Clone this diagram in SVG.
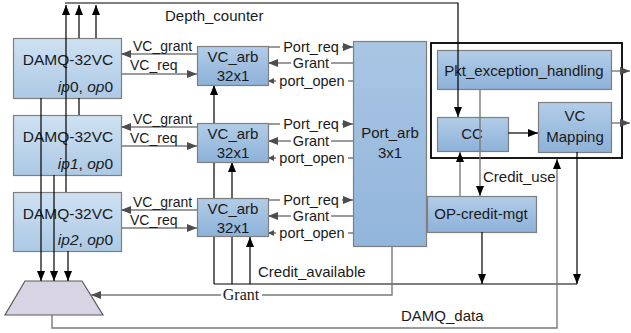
<svg xmlns="http://www.w3.org/2000/svg" width="631" height="333" viewBox="0 0 631 333">
<style>
.t{font-family:"Liberation Sans",Arial,sans-serif;font-size:15px;fill:#1a1a1a}
.s{font-size:14px}
.p{font-size:14.5px}
.c{text-anchor:middle}
.i{font-style:italic}
.serif{font-family:"Liberation Serif","Times New Roman",serif;font-size:16px;fill:#1a1a1a}
.box{stroke:#7f7f7f;stroke-width:1.2}
.k{fill:none;stroke:#000;stroke-width:1.2}
.g{fill:none;stroke:#7a7a7a;stroke-width:1.4}
.bg{fill:#fff}
</style>
<defs>
<linearGradient id="gd" x1="0" y1="0" x2="0" y2="1"><stop offset="0" stop-color="#cfe1f2"/><stop offset="1" stop-color="#acc9e5"/></linearGradient>
<linearGradient id="ga" x1="0" y1="0" x2="0" y2="1"><stop offset="0" stop-color="#b2cde8"/><stop offset="1" stop-color="#8db1d8"/></linearGradient>
<linearGradient id="gp" x1="0" y1="0" x2="0" y2="1"><stop offset="0" stop-color="#a9c6e4"/><stop offset="1" stop-color="#92b5db"/></linearGradient>
<marker id="ab" viewBox="0 0 10 8" refX="10" refY="4" markerWidth="10" markerHeight="8" markerUnits="userSpaceOnUse" orient="auto"><path d="M0,0L10,4L0,8z" fill="#000"/></marker>
<marker id="ag" viewBox="0 0 10 8" refX="10" refY="4" markerWidth="10" markerHeight="8" markerUnits="userSpaceOnUse" orient="auto"><path d="M0,0L10,4L0,8z" fill="#4d4d4d"/></marker>
<marker id="as" viewBox="0 0 6 6" refX="6" refY="3" markerWidth="6" markerHeight="6" markerUnits="userSpaceOnUse" orient="auto"><path d="M0,0L6,3L0,6z" fill="#4d4d4d"/></marker>
</defs>
<rect width="631" height="333" fill="#fff"/>

<g id="damq0"><rect class="box" x="13.5" y="38.5" width="108" height="60" fill="url(#gd)"/><text class="t c" x="68" y="65" style="font-size:15.5px">DAMQ-32VC</text><text class="t" x="113" y="92" text-anchor="end" style="font-size:15.5px"><tspan class="i">ip</tspan>0, <tspan class="i">op</tspan>0</text></g>
<g id="damq1"><rect class="box" x="13.5" y="115.5" width="108" height="60" fill="url(#gd)"/><text class="t c" x="68" y="142" style="font-size:15.5px">DAMQ-32VC</text><text class="t" x="113" y="169" text-anchor="end" style="font-size:15.5px"><tspan class="i">ip1</tspan>, <tspan class="i">op</tspan>0</text></g>
<g id="damq2"><rect class="box" x="13.5" y="192.5" width="108" height="59" fill="url(#gd)"/><text class="t c" x="68" y="219" style="font-size:15.5px">DAMQ-32VC</text><text class="t" x="113" y="245" text-anchor="end" style="font-size:15.5px"><tspan class="i">ip2</tspan>, <tspan class="i">op</tspan>0</text></g>

<g id="mux"><polygon points="25,281 82,281 103,315 5,315" fill="#d9d4e4" stroke="#595959" stroke-width="1.2"/></g>

<g id="port_arb"><rect class="box" x="353.5" y="41.5" width="73" height="205" fill="url(#gp)"/><text class="t c" x="390" y="138">Port_arb</text><text class="t c" x="390" y="158">3x1</text></g>

<g id="outer"><rect x="431" y="43" width="191" height="115" fill="none" stroke="#000" stroke-width="1.8"/></g>
<g id="pkt"><rect class="box" x="437.5" y="50.5" width="174" height="39" fill="url(#ga)"/><text class="t c" x="524" y="76">Pkt_exception_handling</text></g>
<g id="cc"><rect class="box" x="437.5" y="117.5" width="71" height="34" fill="url(#ga)"/><text class="t c" x="472" y="139">CC</text></g>
<g id="vcmap"><rect class="box" x="538.5" y="102.5" width="73" height="50" fill="url(#ga)"/><text class="t c" x="575" y="121">VC</text><text class="t c" x="575" y="142">Mapping</text></g>
<g id="opcredit"><rect class="box" x="427.5" y="196.5" width="109" height="36" fill="url(#ga)"/><text class="t c" x="481" y="219">OP-credit-mgt</text></g>

<g id="connectors">
<path class="k" d="M65,3H458V117" marker-end="url(#ab)"/>
<path class="k" d="M66,192V5" marker-end="url(#ab)"/>
<path class="k" d="M79,115V98M79,38V5" marker-end="url(#ab)"/>
<path class="k" d="M96,38V5" marker-end="url(#ab)"/>
<path class="k" d="M41,98V281" marker-end="url(#ab)"/>
<path class="k" d="M54,175V281" marker-end="url(#ab)"/>
<path class="k" d="M68,251V281" marker-end="url(#ab)"/>
<path class="g" d="M197,54H121" marker-end="url(#ag)"/>
<path class="g" d="M121,74H197" marker-end="url(#ag)"/>
<path class="g" d="M197,127H121" marker-end="url(#ag)"/>
<path class="g" d="M121,146H197" marker-end="url(#ag)"/>
<path class="g" d="M197,210H121" marker-end="url(#ag)"/>
<path class="g" d="M121,228H197" marker-end="url(#ag)"/>
<path class="g" d="M268,47H353" marker-end="url(#ag)"/>
<path class="g" d="M353,63H268" marker-end="url(#ag)"/>
<path class="g" d="M353,81H268" marker-end="url(#as)"/>
<path class="g" d="M268,124H353" marker-end="url(#ag)"/>
<path class="g" d="M353,141H268" marker-end="url(#ag)"/>
<path class="g" d="M353,158H268" marker-end="url(#as)"/>
<path class="g" d="M268,200H353" marker-end="url(#ag)"/>
<path class="g" d="M353,216H268" marker-end="url(#ag)"/>
<path class="g" d="M353,233H268" marker-end="url(#as)"/>
<path class="k" d="M214,284H577"/>
<path class="k" d="M214,284V85" marker-end="url(#ab)"/>
<path class="k" d="M232,284V162" marker-end="url(#ab)"/>
<path class="k" d="M250,284V237" marker-end="url(#ab)"/>
<path class="k" d="M482,232V284" marker-end="url(#ab)"/>
<path class="k" d="M577,152V284" marker-end="url(#ab)"/>
<path class="g" d="M392,246V295H91" marker-end="url(#ag)"/>
<path class="g" d="M52,315V328H557V159" marker-end="url(#ab)"/>
<path class="g" d="M480,89V196" marker-end="url(#ab)"/>
<path class="g" d="M460,196V152" marker-end="url(#ab)"/>
<path class="k" d="M508,133H538" marker-end="url(#ab)"/>
<path class="g" d="M611,71H630" marker-end="url(#ag)"/>
<path class="g" d="M611,123H630" marker-end="url(#ag)"/>
<text class="t s" x="133" y="51">VC_grant</text>
<text class="t s" x="130" y="70">VC_req</text>
<text class="t s" x="133" y="124">VC_grant</text>
<text class="t s" x="130" y="143">VC_req</text>
<text class="t s" x="133" y="207">VC_grant</text>
<text class="t s" x="130" y="225">VC_req</text>
<rect class="bg" x="280" y="40" width="62" height="14"/><text class="t p c" x="311" y="52">Port_req</text>
<rect class="bg" x="291" y="56" width="40" height="14"/><text class="t p c" x="311" y="68">Grant</text>
<rect class="bg" x="276" y="74" width="72" height="14"/><text class="t p c" x="312" y="86">port_open</text>
<rect class="bg" x="280" y="117" width="62" height="14"/><text class="t p c" x="311" y="129">Port_req</text>
<rect class="bg" x="291" y="134" width="40" height="14"/><text class="t p c" x="311" y="146">Grant</text>
<rect class="bg" x="276" y="151" width="72" height="14"/><text class="t p c" x="312" y="163">port_open</text>
<rect class="bg" x="280" y="193" width="62" height="14"/><text class="t p c" x="311" y="205">Port_req</text>
<rect class="bg" x="291" y="209" width="40" height="14"/><text class="t p c" x="311" y="221">Grant</text>
<rect class="bg" x="276" y="226" width="72" height="14"/><text class="t p c" x="312" y="238">port_open</text>
<rect class="bg" x="221" y="288" width="41" height="14"/><text class="serif c" x="241" y="300">Grant</text>
<text class="t" x="165" y="21">Depth_counter</text>
<text class="t" x="258" y="277">Credit_available</text>
<text class="t" x="483" y="182">Credit_use</text>
<text class="t" x="401" y="321">DAMQ_data</text>
</g>

<g id="vcarb0"><rect class="box" x="197.5" y="46.5" width="71" height="39" fill="url(#ga)"/><text class="t c" x="233" y="62">VC_arb</text><text class="t c" x="233" y="81">32x1</text></g>
<g id="vcarb1"><rect class="box" x="197.5" y="123.5" width="71" height="39" fill="url(#ga)"/><text class="t c" x="233" y="139">VC_arb</text><text class="t c" x="233" y="158">32x1</text></g>
<g id="vcarb2"><rect class="box" x="197.5" y="198.5" width="71" height="38" fill="url(#ga)"/><text class="t c" x="233" y="214">VC_arb</text><text class="t c" x="233" y="233">32x1</text></g>
</svg>
